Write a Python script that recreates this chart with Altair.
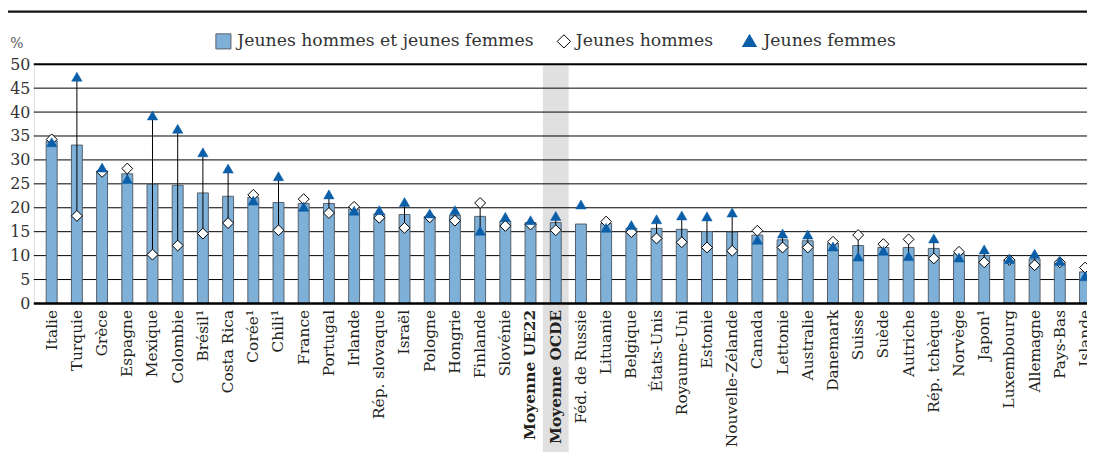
import altair as alt
import pandas as pd

countries = ["Italie", "Turquie", "Grèce", "Espagne", "Mexique", "Colombie", "Brésil¹",
             "Costa Rica", "Corée¹", "Chili¹", "France", "Portugal", "Irlande",
             "Rép. slovaque", "Israël", "Pologne", "Hongrie", "Finlande", "Slovénie",
             "Moyenne UE22", "Moyenne OCDE", "Féd. de Russie", "Lituanie", "Belgique",
             "États-Unis", "Royaume-Uni", "Estonie", "Nouvelle-Zélande", "Canada",
             "Lettonie", "Australie", "Danemark", "Suisse", "Suède", "Autriche",
             "Rép. tchèque", "Norvège", "Japon¹", "Luxembourg", "Allemagne",
             "Pays-Bas", "Islande"]
total = [34.0, 33.1, 27.7, 27.1, 24.9, 24.7, 23.1, 22.4, 22.2, 21.1, 20.9, 20.9, 19.7,
         18.7, 18.6, 18.1, 18.4, 18.2, 17.2, 16.9, 16.9, 16.6, 16.7, 15.7, 15.7, 15.5,
         15.0, 14.9, 14.3, 13.3, 13.1, 12.6, 12.1, 11.7, 11.7, 11.5, 10.4, 10.0, 9.1,
         9.3, 8.4, 6.6]
men = [34.3, 18.3, 27.5, 28.2, 10.2, 12.1, 14.6, 16.8, 22.7, 15.3, 21.8, 18.9, 20.2,
       17.9, 15.8, 18.0, 17.3, 21.0, 16.2, 16.5, 15.3, None, 17.1, 14.9, 13.6, 12.8,
       11.7, 11.0, 15.2, 11.7, 11.7, 12.9, 14.3, 12.4, 13.4, 9.4, 10.8, 8.6, 9.1,
       8.0, 8.6, 7.5]
women = [33.7, 47.4, 28.4, 26.0, 39.3, 36.5, 31.6, 28.2, 21.5, 26.6, 20.2, 22.8, 19.4,
         19.5, 21.2, 18.8, 19.5, 15.2, 18.1, 17.4, 18.3, 20.7, 15.8, 16.4, 17.6, 18.4,
         18.2, 19.0, 13.3, 14.6, 14.4, 11.9, 9.8, 11.0, 9.9, 13.6, 9.6, 11.3, 9.3,
         10.4, 8.9, 5.7]
y_ticks = [0, 5, 10, 15, 20, 25, 30, 35, 40, 45, 50]
legend_labels = ["Jeunes hommes et jeunes femmes", "Jeunes hommes", "Jeunes femmes"]
highlight = "Moyenne OCDE"

df = pd.DataFrame({"pays": countries, "total": total, "hommes": men, "femmes": women})

FONT = "DejaVu Serif"
W, H = 1061, 241
STEP = 25.39
FIRST = 18.0
BAR_FILL = "#7fb0d8"
BAR_STROKE = "#55606b"
TRI = "#0b5ea8"
TXT = "#231f20"

x_scale = alt.Scale(domain=countries,
                    range=[FIRST - STEP / 2, FIRST - STEP / 2 + STEP * len(countries)],
                    paddingInner=0.567, paddingOuter=0.2835)
x_axis = alt.Axis(title=None, labelAngle=-90, ticks=False, domain=False, zindex=1,
                  grid=False, labelFont=FONT, labelFontSize=15.5, labelColor=TXT,
                  labelPadding=6, labelLimit=0, labelOverlap=False,
                  labelFontWeight={"condition": {"test": "indexof(datum.value, 'Moyenne') >= 0",
                                                 "value": "bold"},
                                   "value": "normal"})
y_scale = alt.Scale(domain=[0, 50], nice=False, zero=True)
y_axis = alt.Axis(values=y_ticks, title=None, grid=False, ticks=False, domain=False,
                  labelFont=FONT, labelFontSize=16, labelColor="#333333",
                  labelPadding=4)


def X():
    return alt.X("pays:N", scale=x_scale, sort=countries, axis=x_axis)


def Y(field):
    return alt.Y(field, scale=y_scale, axis=y_axis)


base = alt.Chart(df)

band = base.transform_filter(alt.datum.pays == highlight).mark_bar(
    size=26, color="#e0e0e0").encode(x=X(), y=alt.value(0), y2=alt.value(420))

grid_df = pd.DataFrame({"v": y_ticks[1:-1]})
grid = alt.Chart(grid_df).mark_rule(color="black", strokeWidth=1).encode(y=Y("v:Q"))
top_df = pd.DataFrame({"v": [y_ticks[-1]]})
top_rule = alt.Chart(top_df).mark_rule(color="black", strokeWidth=2.2).encode(y=Y("v:Q"))

bars = base.mark_bar(fill=BAR_FILL, stroke=BAR_STROKE, strokeWidth=1, size=11).encode(
    x=X(), y=Y("total:Q"))

zero_df = pd.DataFrame({"v": [y_ticks[0]]})
zero_rule = alt.Chart(zero_df).mark_rule(color="black", strokeWidth=2.6).encode(y=Y("v:Q"))

links = base.transform_filter("isValid(datum.hommes)").mark_rule(
    color="black", strokeWidth=1).encode(x=X(), y=Y("hommes:Q"), y2="femmes:Q")

diamonds = base.transform_filter("isValid(datum.hommes)").mark_point(
    shape="diamond", filled=True, fill="white", stroke="black", strokeWidth=1,
    size=120, opacity=1).encode(x=X(), y=Y("hommes:Q"))

triangles = base.mark_point(shape="triangle-up", filled=True, fill=TRI,
                            stroke=TRI, strokeWidth=0.5, size=110, opacity=1).encode(
    x=X(), y=Y("femmes:Q"))

# legend and decorations
one = pd.DataFrame({"a": [0]})
LY = -23
leg_sq = alt.Chart(one).mark_square(size=230, fill=BAR_FILL, stroke=BAR_STROKE,
                                    strokeWidth=1, opacity=1).encode(
    x=alt.value(191), y=alt.value(LY))
leg_dm = alt.Chart(one).mark_point(shape="diamond", filled=True, fill="white",
                                   stroke="black", strokeWidth=1, size=180,
                                   opacity=1).encode(x=alt.value(534), y=alt.value(LY))
leg_tr = alt.Chart(one).mark_point(shape="triangle-up", filled=True, fill=TRI,
                                   size=240, opacity=1).encode(
    x=alt.value(721), y=alt.value(LY - 1))


def leg_text(label, xpos):
    return alt.Chart(pd.DataFrame({"t": [label]})).mark_text(
        font=FONT, fontSize=17.4, color="#333333", align="left", baseline="middle").encode(
        text="t:N", x=alt.value(xpos), y=alt.value(LY))


leg_t1 = leg_text(legend_labels[0], 205)
leg_t2 = leg_text(legend_labels[1], 546)
leg_t3 = leg_text(legend_labels[2], 735)

pct = alt.Chart(pd.DataFrame({"t": ["%"]})).mark_text(
    font=FONT, fontSize=14, color="#555555", align="center", baseline="middle").encode(
    text="t:N", x=alt.value(-17), y=alt.value(-20))

title_rule = alt.Chart(one).mark_rule(color="#111111", strokeWidth=2.2).encode(
    x=alt.value(-26), x2=alt.value(W), y=alt.value(-53))

chart = alt.layer(
    band, grid, top_rule, bars, zero_rule, links, diamonds, triangles,
    leg_sq, leg_dm, leg_tr, leg_t1, leg_t2, leg_t3, pct, title_rule
).resolve_scale(y="shared", x="shared").properties(
    width=W, height=H,
    autosize=alt.AutoSizeParams(type="none"),
    padding={"left": 26, "top": 55, "right": 0, "bottom": 148},
).configure_view(stroke=None).configure(background="white")

chart.save("out.html", embed_options={"renderer": "svg", "actions": False})
